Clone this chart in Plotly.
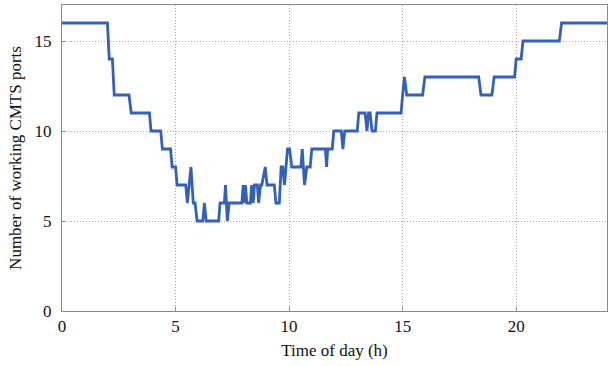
import plotly.graph_objects as go

hours = [0, 2.0, 2.08, 2.22, 2.3, 2.95, 3.05, 3.85, 3.92, 4.35, 4.42, 4.78, 4.85, 5.0, 5.07,
         5.45, 5.52, 5.68, 5.78, 5.86, 5.95, 6.2, 6.27, 6.35, 6.9, 6.96, 7.15, 7.2, 7.28, 7.36,
         7.92, 7.98, 8.03, 8.08, 8.14, 8.3, 8.35, 8.42, 8.48, 8.6, 8.66, 8.74, 8.8, 8.95, 9.03,
         9.35, 9.42, 9.57, 9.65, 9.72, 9.8, 9.93, 10.02, 10.12, 10.52, 10.58, 10.68, 10.78, 10.93,
         11.0, 11.6, 11.65, 11.7, 11.9, 11.97, 12.3, 12.37, 12.45, 13.0, 13.07, 13.35, 13.43, 13.5,
         13.57, 13.65, 13.8, 13.87, 14.93, 15.0, 15.08, 15.18, 15.88, 15.98, 18.35, 18.45, 18.93,
         19.03, 19.93, 20.0, 20.22, 20.3, 21.9, 22.0, 24]
ports = [16, 16, 14, 14, 12, 12, 11, 11, 10, 10, 9, 9, 8, 8, 7,
         7, 6, 8, 6, 6, 5, 5, 6, 5, 5, 6, 6, 7, 5, 6,
         6, 7, 6, 7, 6, 6, 7, 6, 7, 7, 6, 7, 7, 8, 7,
         7, 6, 6, 8, 8, 7, 9, 9, 8, 8, 9, 7, 8, 8,
         9, 9, 8, 9, 9, 10, 10, 9, 10, 10, 11, 11, 10, 11,
         11, 10, 10, 11, 11, 12, 13, 12, 12, 13, 13, 12, 12,
         13, 13, 14, 14, 15, 15, 16, 16]

x_ticks = [0, 5, 10, 15, 20]
y_ticks = [0, 5, 10, 15]

fig = go.Figure()
fig.add_trace(go.Scatter(x=hours, y=ports, mode="lines",
                         line=dict(color="#3560b8", width=2.8), showlegend=False))

family = "Liberation Serif, Times New Roman, serif"
tickfont = dict(family=family, size=17, color="#111")
titlefont = dict(family=family, size=17, color="#111")
axis_common = dict(showline=True, linecolor="#8a8a8a", linewidth=1, mirror=True,
                   showgrid=True, gridcolor="#a8a8a8", griddash="1px,2px", gridwidth=1,
                   zeroline=False, ticks="inside", ticklen=4, tickcolor="#8a8a8a",
                   tickfont=tickfont)
fig.update_layout(
    width=608, height=366,
    margin=dict(l=62, r=1, t=5, b=55),
    paper_bgcolor="white", plot_bgcolor="white",
    font=tickfont,
    xaxis=dict(range=[0, 24], tickvals=x_ticks, ticktext=[str(v) for v in x_ticks],
               title=dict(text="Time of day (h)", font=titlefont, standoff=8), **axis_common),
    yaxis=dict(range=[0, 17], tickvals=y_ticks, ticktext=[str(v) for v in y_ticks],
               ticklabelstandoff=6,
               title=dict(text="Number of working CMTS ports", font=titlefont, standoff=8), **axis_common),
)
fig.write_html("out.html")
